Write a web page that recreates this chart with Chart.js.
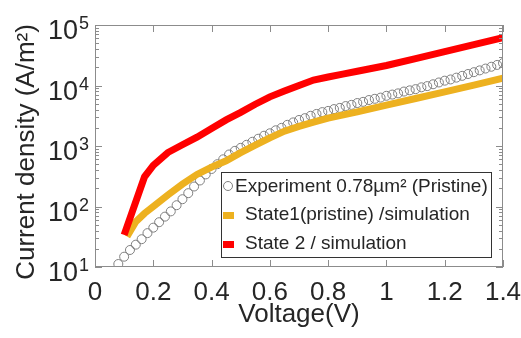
<!DOCTYPE html>
<html>
<head>
<meta charset="utf-8">
<script src="https://cdn.jsdelivr.net/npm/chart.js@4/dist/chart.umd.min.js"></script>
<style>
  body { margin: 0; background: #fff; }
  canvas { display: block; }
</style>
</head>
<body>
<canvas id="chart" width="521" height="338"></canvas>
<script>
// measured points (Experiment 0.78um2, pristine)
const voltageExp = [0.08, 0.10, 0.12, 0.14, 0.16, 0.18, 0.20, 0.22, 0.24, 0.26,
  0.28, 0.30, 0.32, 0.34, 0.36, 0.38, 0.40, 0.42, 0.44, 0.46,
  0.48, 0.50, 0.52, 0.54, 0.56, 0.58, 0.60, 0.62, 0.64, 0.66,
  0.68, 0.70, 0.72, 0.74, 0.76, 0.78, 0.80, 0.82, 0.84, 0.86,
  0.88, 0.90, 0.92, 0.94, 0.96, 0.98, 1.00, 1.02, 1.04, 1.06,
  1.08, 1.10, 1.12, 1.14, 1.16, 1.18, 1.20, 1.22, 1.24, 1.26,
  1.28, 1.30, 1.32, 1.34, 1.36, 1.38, 1.40];
const currentExp = [11.2, 14.8, 19.1, 23.4, 28.8, 36.3, 44.7, 55, 68, 83,
  105, 132, 166, 214, 269, 339, 417, 501, 603, 724,
  832, 933, 1047, 1175, 1318, 1479, 1622, 1820, 1995, 2239,
  2455, 2692, 2884, 3162, 3388, 3631, 3802, 4074, 4266, 4571,
  4786, 5129, 5370, 5754, 6026, 6310, 6761, 7079, 7413, 7943,
  8318, 8710, 9333, 9772, 10470, 11220, 12020, 12590, 13490, 14450,
  15490, 16600, 17780, 19050, 20420, 21880, 23440];

// State1 (pristine) simulation
const voltageSim1 = [0.11, 0.14, 0.17, 0.2, 0.25, 0.3, 0.35, 0.4, 0.45, 0.5, 0.55,
  0.6, 0.65, 0.7, 0.75, 0.8, 0.9, 1.0, 1.1, 1.2, 1.3, 1.4];
const currentSim1 = [32, 56, 77, 100, 155, 234, 339, 447, 570, 776, 1030,
  1360, 1758, 2113, 2483, 2884, 3673, 4732, 6095, 7852, 10116, 13183];

// State 2 simulation
const voltageSim2 = [0.1, 0.17, 0.2, 0.25, 0.3, 0.35, 0.4, 0.45, 0.5, 0.55, 0.6,
  0.65, 0.7, 0.75, 0.8, 0.85, 0.9, 1.0, 1.1, 1.2, 1.3, 1.4];
const currentSim2 = [34, 310, 480, 780, 1050, 1400, 1950, 2700, 3600, 4900, 6500,
  8100, 10000, 12300, 13800, 15400, 17200, 21400, 27900, 36300, 47300, 62000];

const xTicks = [0, 0.2, 0.4, 0.6, 0.8, 1, 1.2, 1.4];
const xTickLabels = ['0', '0.2', '0.4', '0.6', '0.8', '1', '1.2', '1.4'];
const yTicks = [10, 100, 1000, 10000, 100000];
const yTickExponents = ['1', '2', '3', '4', '5'];

const legendLabels = ['Experiment 0.78µm² (Pristine)', 'State1(pristine) /simulation', 'State 2 / simulation'];

const FONT = '"Liberation Sans", Arial, sans-serif';
const TEXT = '#262626';
const AXIS = '#8c8c8c';
const YELLOW = '#EDB120';
const RED = '#FF0000';
const GREY = '#808080';

const toPoints = (xs, ys) => xs.map((v, i) => ({ x: v, y: ys[i] }));

// frame, ticks, labels and legend drawn on top of the datasets
const decorations = {
  id: 'decorations',
  afterDraw(chart) {
    const { ctx, chartArea: a, scales: { x, y } } = chart;
    ctx.save();

    // box
    ctx.strokeStyle = AXIS;
    ctx.lineWidth = 1;
    ctx.strokeRect(a.left + 0.5, a.top + 0.5, a.right - a.left - 1, a.bottom - a.top - 1);

    // x ticks (inward, top and bottom)
    ctx.beginPath();
    xTicks.forEach(v => {
      const px = Math.round(x.getPixelForValue(v)) + 0.5;
      ctx.moveTo(px, a.bottom); ctx.lineTo(px, a.bottom - 7);
      ctx.moveTo(px, a.top); ctx.lineTo(px, a.top + 7);
    });
    // y ticks, major and minor
    yTicks.forEach((v, i) => {
      const py = Math.round(y.getPixelForValue(v)) + 0.5;
      ctx.moveTo(a.left, py); ctx.lineTo(a.left + 7, py);
      ctx.moveTo(a.right, py); ctx.lineTo(a.right - 7, py);
      if (i < yTicks.length - 1) {
        for (let m = 2; m <= 9; m++) {
          const pm = Math.round(y.getPixelForValue(v * m)) + 0.5;
          ctx.moveTo(a.left, pm); ctx.lineTo(a.left + 4, pm);
          ctx.moveTo(a.right, pm); ctx.lineTo(a.right - 4, pm);
        }
      }
    });
    ctx.stroke();

    // tick labels
    ctx.fillStyle = TEXT;
    ctx.font = '26px ' + FONT;
    ctx.textAlign = 'center';
    ctx.textBaseline = 'alphabetic';
    xTicks.forEach((v, i) => {
      ctx.fillText(xTickLabels[i], x.getPixelForValue(v), 300);
    });
    yTicks.forEach((v, i) => {
      const py = y.getPixelForValue(v);
      ctx.font = '27px ' + FONT;
      ctx.textAlign = 'right';
      ctx.fillText('10', 78, py + 14);
      ctx.font = '18px ' + FONT;
      ctx.textAlign = 'left';
      ctx.fillText(yTickExponents[i], 79, py + 4);
    });

    // axis titles
    ctx.font = '26px ' + FONT;
    ctx.textAlign = 'center';
    ctx.fillText('Voltage(V)', (a.left + a.right) / 2, 322);
    ctx.save();
    ctx.translate(34, 152);
    ctx.rotate(-Math.PI / 2);
    ctx.fillText('Current density (A/m²)', 0, 0);
    ctx.restore();

    // legend
    ctx.fillStyle = '#fff';
    ctx.fillRect(221, 172, 271, 86);
    ctx.strokeStyle = '#333';
    ctx.strokeRect(221.5, 172.5, 270, 85);
    ctx.fillStyle = TEXT;
    ctx.font = '19px ' + FONT;
    ctx.textAlign = 'left';
    ctx.textBaseline = 'middle';

    ctx.strokeStyle = GREY;
    ctx.lineWidth = 1;
    ctx.beginPath();
    ctx.arc(228, 186, 4.5, 0, Math.PI * 2);
    ctx.stroke();
    ctx.fillText(legendLabels[0], 235, 187);

    ctx.fillStyle = YELLOW;
    ctx.fillRect(223, 212, 11, 7);
    ctx.fillStyle = TEXT;
    ctx.fillText(legendLabels[1], 245, 215);

    ctx.fillStyle = RED;
    ctx.fillRect(223, 241, 11, 7);
    ctx.fillStyle = TEXT;
    ctx.fillText(legendLabels[2], 245, 244);

    ctx.restore();
  }
};

new Chart(document.getElementById('chart'), {
  type: 'line',
  data: {
    datasets: [
      {
        label: legendLabels[2],
        data: toPoints(voltageSim2, currentSim2),
        borderColor: RED,
        borderWidth: 7,
        pointRadius: 0,
        tension: 0,
      },
      {
        label: legendLabels[1],
        data: toPoints(voltageSim1, currentSim1),
        borderColor: YELLOW,
        borderWidth: 7,
        pointRadius: 0,
        tension: 0,
      },
      {
        label: legendLabels[0],
        data: toPoints(voltageExp, currentExp),
        showLine: false,
        pointStyle: 'circle',
        pointRadius: 4.5,
        pointBorderWidth: 1,
        pointBorderColor: GREY,
        pointBackgroundColor: 'rgba(0,0,0,0)',
      },
    ]
  },
  options: {
    responsive: false,
    devicePixelRatio: 1,
    animation: false,
    layout: { padding: { top: 25, right: 18, left: 0, bottom: 0 } },
    plugins: { legend: { display: false }, tooltip: { enabled: false } },
    scales: {
      x: {
        type: 'linear', min: 0, max: 1.4,
        grid: { display: false }, border: { display: false },
        ticks: { display: false },
        afterFit(scale) { scale.height = 71; }
      },
      y: {
        type: 'logarithmic', min: 10, max: 100000,
        grid: { display: false }, border: { display: false },
        ticks: { display: false },
        afterFit(scale) { scale.width = 95; }
      }
    }
  },
  plugins: [decorations]
});
</script>
</body>
</html>
